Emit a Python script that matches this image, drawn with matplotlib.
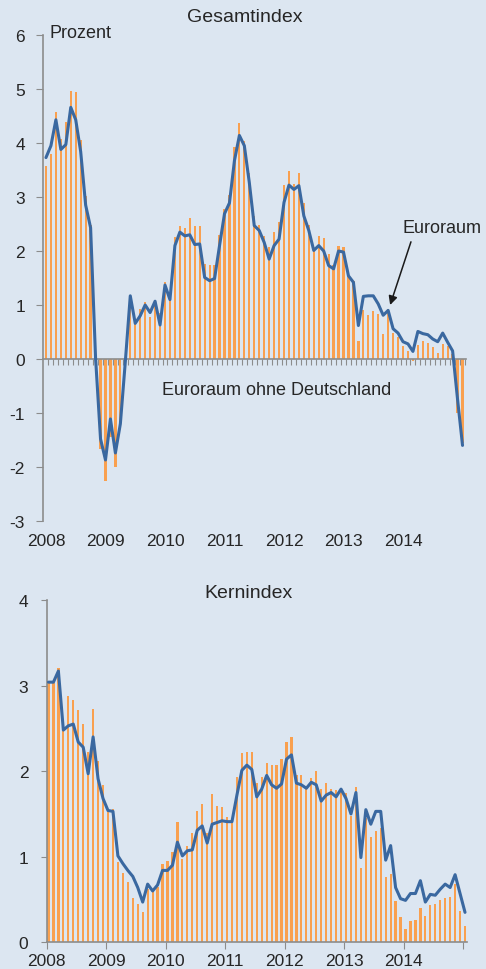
import matplotlib
matplotlib.use('Agg')
import matplotlib.pyplot as plt
import numpy as np

# ---------------- data (monthly, Jan 2008 - Jan 2015) ----------------
years = ['2008', '2009', '2010', '2011', '2012', '2013', '2014']

gesamt_euroraum = [3.73, 3.95, 4.43, 3.88, 3.97, 4.66, 4.43, 3.84, 2.85, 2.43,
                   0.02, -1.48, -1.87, -1.11, -1.74, -1.20, -0.05, 1.17, 0.66, 0.80,
                   1.00, 0.86, 1.07, 0.63, 1.37, 1.10, 2.10, 2.35, 2.28, 2.30,
                   2.12, 2.13, 1.51, 1.45, 1.49, 2.10, 2.69, 2.89, 3.67, 4.14,
                   3.95, 3.27, 2.47, 2.38, 2.16, 1.85, 2.10, 2.22, 2.90, 3.22,
                   3.14, 3.21, 2.65, 2.38, 2.01, 2.10, 2.00, 1.73, 1.67, 2.00,
                   1.98, 1.54, 1.42, 0.62, 1.16, 1.17, 1.17, 1.02, 0.81, 0.90,
                   0.56, 0.48, 0.32, 0.28, 0.14, 0.51, 0.47, 0.45, 0.37, 0.32,
                   0.48, 0.31, 0.15, -0.75, -1.60]

gesamt_ohne_de = [3.58, 3.80, 4.57, 4.07, 4.38, 4.97, 4.94, 4.06, 3.02, 2.49,
                  0.00, -1.67, -2.25, -1.45, -2.00, -1.30, 0.00, 1.10, 0.70, 0.93,
                  1.05, 0.78, 1.05, 0.85, 1.42, 1.10, 2.26, 2.47, 2.42, 2.61,
                  2.46, 2.46, 1.76, 1.74, 1.74, 2.30, 2.78, 3.04, 3.92, 4.37,
                  4.03, 3.44, 2.65, 2.48, 2.28, 2.07, 2.35, 2.53, 3.22, 3.49,
                  3.24, 3.44, 2.89, 2.48, 2.05, 2.28, 2.25, 1.95, 1.75, 2.10,
                  2.07, 1.54, 1.45, 0.34, 0.90, 0.81, 0.88, 0.83, 0.46, 0.93,
                  0.49, 0.40, 0.25, 0.15, -0.03, 0.26, 0.34, 0.30, 0.22, 0.11,
                  0.28, 0.25, 0.10, -1.00, -1.55]

kern_euroraum = [3.04, 3.04, 3.17, 2.48, 2.53, 2.55, 2.34, 2.28, 1.97, 2.40,
                 1.91, 1.68, 1.54, 1.53, 1.01, 0.92, 0.84, 0.77, 0.64, 0.47,
                 0.68, 0.60, 0.67, 0.84, 0.84, 0.90, 1.17, 1.01, 1.07, 1.08,
                 1.31, 1.36, 1.16, 1.38, 1.40, 1.42, 1.41, 1.41, 1.72, 2.01,
                 2.07, 2.02, 1.70, 1.79, 1.95, 1.84, 1.80, 1.85, 2.14, 2.19,
                 1.86, 1.84, 1.80, 1.87, 1.84, 1.65, 1.72, 1.75, 1.70, 1.79,
                 1.68, 1.50, 1.75, 0.99, 1.55, 1.38, 1.53, 1.53, 0.96, 1.13,
                 0.64, 0.51, 0.49, 0.57, 0.57, 0.72, 0.47, 0.56, 0.55, 0.62,
                 0.68, 0.64, 0.79, 0.57, 0.35]

kern_ohne_de = [3.03, 3.03, 3.20, 2.47, 2.88, 2.83, 2.71, 2.55, 2.22, 2.73,
                2.12, 1.84, 1.55, 1.56, 0.94, 0.81, 0.70, 0.52, 0.45, 0.35,
                0.62, 0.60, 0.65, 0.92, 0.95, 1.05, 1.40, 0.97, 1.13, 1.28,
                1.54, 1.62, 1.28, 1.73, 1.59, 1.58, 1.46, 1.40, 1.93, 2.21,
                2.22, 2.22, 1.86, 1.93, 2.09, 2.07, 2.07, 2.14, 2.34, 2.40,
                1.96, 1.95, 1.83, 1.92, 2.00, 1.79, 1.86, 1.79, 1.78, 1.76,
                1.74, 1.48, 1.81, 0.87, 1.45, 1.23, 1.30, 1.33, 0.76, 0.80,
                0.48, 0.29, 0.16, 0.25, 0.26, 0.40, 0.31, 0.44, 0.45, 0.49,
                0.52, 0.53, 0.68, 0.37, 0.19]

top_yticks = [-3, -2, -1, 0, 1, 2, 3, 4, 5, 6]
top_ylabels = ['-3', '-2', '-1', '0', '1', '2', '3', '4', '5', '6']
bot_yticks = [0, 1, 2, 3, 4]
bot_ylabels = ['0', '1', '2', '3', '4']

# ---------------- style ----------------
BG = '#DCE6F1'
BAR = '#F9A04F'
LINE = '#3A68A0'
AXC = '#8C8C8C'
TXT = '#262626'

plt.rcParams['font.family'] = ['Liberation Sans', 'DejaVu Sans']

W, H = 486, 970
fig = plt.figure(figsize=(W / 100, H / 100), dpi=100, facecolor=BG)

n = len(gesamt_euroraum)
months = np.arange(n)

# ---------------- top panel: Gesamtindex ----------------
ax1 = fig.add_axes([43 / W, 1 - 522 / H, (466 - 43) / W, (522 - 36) / H])
ax1.set_facecolor(BG)
ax1.bar(months, gesamt_ohne_de, width=0.45, color=BAR, zorder=2, linewidth=0)
ax1.plot(months, gesamt_euroraum, color=LINE, lw=2.2, zorder=3,
         solid_joinstyle='round', solid_capstyle='round')
ax1.set_xlim(-0.6, 84.7)
ax1.set_ylim(-3, 6)
for s in ['top', 'right']:
    ax1.spines[s].set_visible(False)
ax1.spines['left'].set_color(AXC)
ax1.spines['bottom'].set_color(AXC)
ax1.spines['bottom'].set_position(('data', 0))
ax1.spines['left'].set_linewidth(1.2)
ax1.spines['bottom'].set_linewidth(1.2)
ax1.set_xticks(np.arange(0.5, n, 1))
ax1.tick_params(axis='x', length=4, color=AXC, labelbottom=False, direction='out')
ax1.set_yticks(top_yticks)
ax1.set_yticklabels(top_ylabels)
ax1.tick_params(axis='y', length=5, color=AXC, pad=8, labelsize=12.5, labelcolor=TXT)
for k, yr in enumerate(years):
    ax1.annotate(yr, xy=(12 * k, -3), xytext=(0, -14.2), textcoords='offset points',
                 ha='center', va='center', fontsize=12.5, color=TXT, annotation_clip=False)

ax1.text(0.8, 6.04, 'Prozent', ha='left', va='center', fontsize=13, color=TXT)
ax1.text(46.6, -0.57, 'Euroraum ohne Deutschland', ha='center', va='center',
         fontsize=13, color=TXT)
ax1.text(79.8, 2.44, 'Euroraum', ha='center', va='center', fontsize=13, color=TXT,
         clip_on=False)
ax1.annotate('', xy=(69.4, 1.0), xytext=(73.6, 2.17),
             arrowprops=dict(arrowstyle='-|>', color='#1A1A1A', lw=1.1,
                             mutation_scale=13, shrinkA=0, shrinkB=0))

fig.text(245 / W, 1 - 17 / H, 'Gesamtindex', ha='center', va='center',
         fontsize=14, color=TXT)

# ---------------- bottom panel: Kernindex ----------------
ax2 = fig.add_axes([46.5 / W, 1 - 943.3 / H, (467 - 46.5) / W, (943.3 - 601) / H])
ax2.set_facecolor(BG)
ax2.bar(months, kern_ohne_de, width=0.45, color=BAR, zorder=2, linewidth=0)
ax2.plot(months, kern_euroraum, color=LINE, lw=2.2, zorder=3,
         solid_joinstyle='round', solid_capstyle='round')
ax2.set_xlim(-0.36, 84.4)
ax2.set_ylim(0, 4)
for s in ['top', 'right']:
    ax2.spines[s].set_visible(False)
ax2.spines['left'].set_color(AXC)
ax2.spines['bottom'].set_color(AXC)
ax2.spines['left'].set_linewidth(1.2)
ax2.spines['bottom'].set_linewidth(1.2)
xt = [12 * k - 0.4 for k in range(len(years) + 1)]
ax2.set_xticks(xt)
ax2.set_xticklabels(years + [''])
ax2.tick_params(axis='x', length=5, color=AXC, pad=3, labelsize=12.5, labelcolor=TXT)
ax2.set_yticks(bot_yticks)
ax2.set_yticklabels(bot_ylabels)
ax2.tick_params(axis='y', length=4, color=AXC, pad=9, labelsize=12.5, labelcolor=TXT)

fig.text(248 / W, 1 - 594 / H, 'Kernindex', ha='center', va='center',
         fontsize=14, color=TXT)

fig.savefig('out.png', dpi=100, facecolor=BG)
